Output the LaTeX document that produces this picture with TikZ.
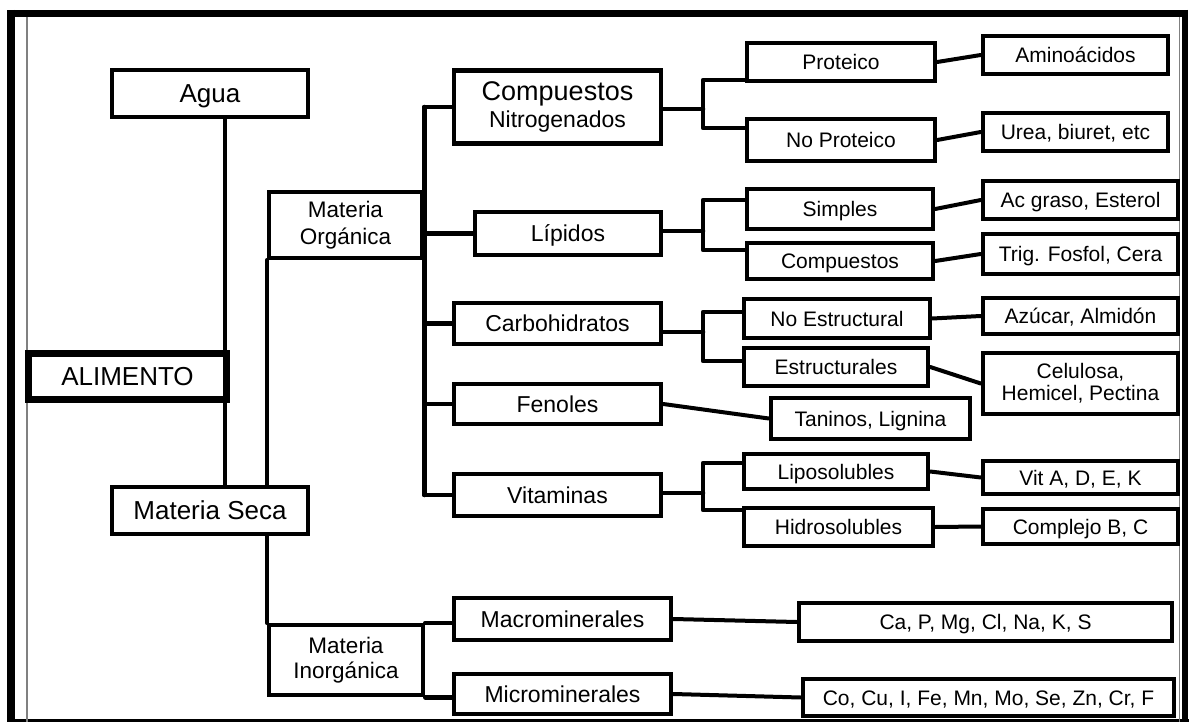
\documentclass[tikz,border=0pt]{standalone}
\usepackage{fontspec}
\setmainfont{Liberation Sans}
\usetikzlibrary{backgrounds}
\begin{document}
\begin{tikzpicture}[x=1pt,y=-1pt,
  box/.style={draw, line width=4.5pt, fill=white, inner sep=0pt},
  bx/.style n args={2}{minimum width=#1pt, minimum height=#2pt},
  fbig/.style={font=\fontsize{26}{30}\selectfont, text height=18.6pt, text depth=0pt},
  fmid/.style={font=\fontsize{23}{27}\selectfont, text height=16.5pt, text depth=0pt},
  fsml/.style={font=\fontsize{21}{24}\selectfont, text height=15pt, text depth=0pt},
  ml/.style={align=center},
  conn/.style={line width=4.5pt, line join=round, line cap=round},
  diag/.style={line width=4pt, line cap=round}
]
\useasboundingbox (0,0) rectangle (1199,722);

% level 0-1
\node[box,bx={196}{47},fbig] (agua) at (210,93.5) {Agua};
\node[box,line width=7.5pt,bx={198}{46},fbig] (alim) at (127.5,376.5) {ALIMENTO};
\node[box,bx={196}{47},fbig] (ms) at (210,510.5) {Materia Seca};
\node[box,bx={153}{66},ml,font=\fontsize{22.5}{27}\selectfont] (mo) at (345.5,225) {Materia\\Orgánica};
\node[box,bx={154}{70},ml,font=\fontsize{22.5}{25}\selectfont] (mi) at (346,660) {Materia\\Inorgánica};

% level 2
\node[box,bx={207}{73},ml,font=\fontsize{23}{26}\selectfont] (cn) at (557.5,107) {{\fontsize{27}{27}\selectfont Compuestos}\\[1pt]Nitrogenados};
\node[box,bx={186}{43},fmid] (lip) at (568,233.5) {Lípidos};
\node[box,bx={207}{41},fmid] (carb) at (557.5,323.5) {Carbohidratos};
\node[box,bx={207}{40},fmid] (fen) at (557.5,404) {Fenoles};
\node[box,bx={207}{42},fmid] (vit) at (557.5,495) {Vitaminas};
\node[box,bx={217}{42},fmid] (macro) at (562.5,619) {Macrominerales};
\node[box,bx={217}{40},fmid] (micro) at (562.5,694) {Microminerales};

% level 3
\node[box,bx={188}{38},fsml] (prot) at (841,62) {Proteico};
\node[box,bx={188}{42},fsml] (nprot) at (841,140) {No Proteico};
\node[box,bx={186}{40},fsml] (simp) at (840,209) {Simples};
\node[box,bx={186}{36},fsml] (comp) at (840,261) {Compuestos};
\node[box,bx={186}{39},fsml] (nest) at (837,318.5) {No Estructural};
\node[box,bx={184}{38},fsml] (est) at (836,367) {Estructurales};
\node[box,bx={199}{41},fsml] (tan) at (870.5,418.5) {Taninos, Lignina};
\node[box,bx={184}{35},fsml] (lipo) at (836,471.5) {Liposolubles};
\node[box,bx={189}{38},fsml] (hidro) at (838.5,527) {Hidrosolubles};

% level 4
\node[box,bx={185}{38},fsml] (amino) at (1075.5,55) {Aminoácidos};
\node[box,bx={185}{38},fsml] (urea) at (1075.5,132) {Urea, biuret, etc};
\node[box,bx={195}{38},fsml] (acg) at (1080.5,200) {Ac graso, Esterol};
\node[box,bx={195}{40},fsml] (trig) at (1080.5,254) {Trig. Fosfol, Cera};
\node[box,bx={195}{36},fsml] (azu) at (1080.5,316) {Azúcar, Almidón};
\node[box,bx={195}{61},ml,font=\fontsize{21}{22}\selectfont] (cel) at (1080.5,383.5) {Celulosa,\\Hemicel, Pectina};
\node[box,bx={195}{33},fsml] (vita) at (1080.5,477.5) {Vit A, D, E, K};
\node[box,bx={195}{35},fsml] (cplx) at (1080.5,526.5) {Complejo B, C};
\node[box,bx={373}{38},fsml] (ca) at (985.5,622) {Ca, P, Mg, Cl, Na, K, S};
\node[box,bx={371}{37},fsml] (co) at (988.5,697.5) {Co, Cu, I, Fe, Mn, Mo, Se, Zn, Cr, F};

% junctions
\coordinate (ta) at (225,0);
\coordinate (jcn) at (703,109);  \coordinate (jp) at (703,80);  \coordinate (jnp) at (703,128);
\coordinate (jlip) at (703,231); \coordinate (js) at (703,200); \coordinate (jc) at (703,250);
\coordinate (jcarb) at (703,332); \coordinate (jne) at (703,312); \coordinate (je) at (703,361);
\coordinate (jvit) at (703,493); \coordinate (jl) at (703,463); \coordinate (jh) at (703,510);

\begin{scope}[on background layer]
  % frame
  \draw[line width=7pt] (11,13.5) -- (1185,13.5);
  \draw[line width=8pt] (11,10) -- (11,730);
  \draw[line width=6.5pt] (1185,10) -- (1185,730);
  \draw[line width=6pt] (7,722) -- (1189,722);
  \draw[gray, line width=1.5pt] (27,17) -- (27,722);
  \draw[gray, line width=1.5pt] (1179.5,17) -- (1179.5,722);

  % trunks
  \draw[conn] (agua.south -| ta) -- (alim.north -| ta);
  \draw[conn] (alim.south -| ta) -- (ms.north -| ta);
  \draw[conn] (mo.south west) -- (mi.north west);
  \draw[conn] (cn.west -| mo.east) -- (vit.west -| mo.east);
  \foreach \n in {cn,lip,carb,fen,vit} \draw[conn] (\n.west -| mo.east) -- (\n.west);
  \draw[conn] (mi.north east) -- (mi.north east -| macro.west);
  \draw[conn] (mi.south east) -- (mi.south east -| micro.west);

  % brackets
  \draw[conn] (jcn -| cn.east) -- (jcn);
  \draw[conn] (jp -| prot.west) -- (jp) -- (jnp) -- (jnp -| nprot.west);
  \draw[conn] (jlip -| lip.east) -- (jlip);
  \draw[conn] (js -| simp.west) -- (js) -- (jc) -- (jc -| comp.west);
  \draw[conn] (jcarb -| carb.east) -- (jcarb);
  \draw[conn] (jne -| nest.west) -- (jne) -- (je) -- (je -| est.west);
  \draw[conn] (jvit -| vit.east) -- (jvit);
  \draw[conn] (jl -| lipo.west) -- (jl) -- (jh) -- (jh -| hidro.west);

  % diagonals
  \draw[diag] (fen.east) -- (tan.west);
  \draw[diag] (macro.east) -- (ca.west);
  \draw[diag] (micro.east) -- (co.west);
  \draw[diag] (prot.east) -- (amino.west);
  \draw[diag] (nprot.east) -- (urea.west);
  \draw[diag] (simp.east) -- (acg.west);
  \draw[diag] (comp.east) -- (trig.west);
  \draw[diag] (nest.east) -- (azu.west);
  \draw[diag] (est.east) -- (cel.west);
  \draw[diag] (lipo.east) -- (vita.west);
  \draw[diag] (hidro.east) -- (cplx.west);
\end{scope}
\end{tikzpicture}
\end{document}
